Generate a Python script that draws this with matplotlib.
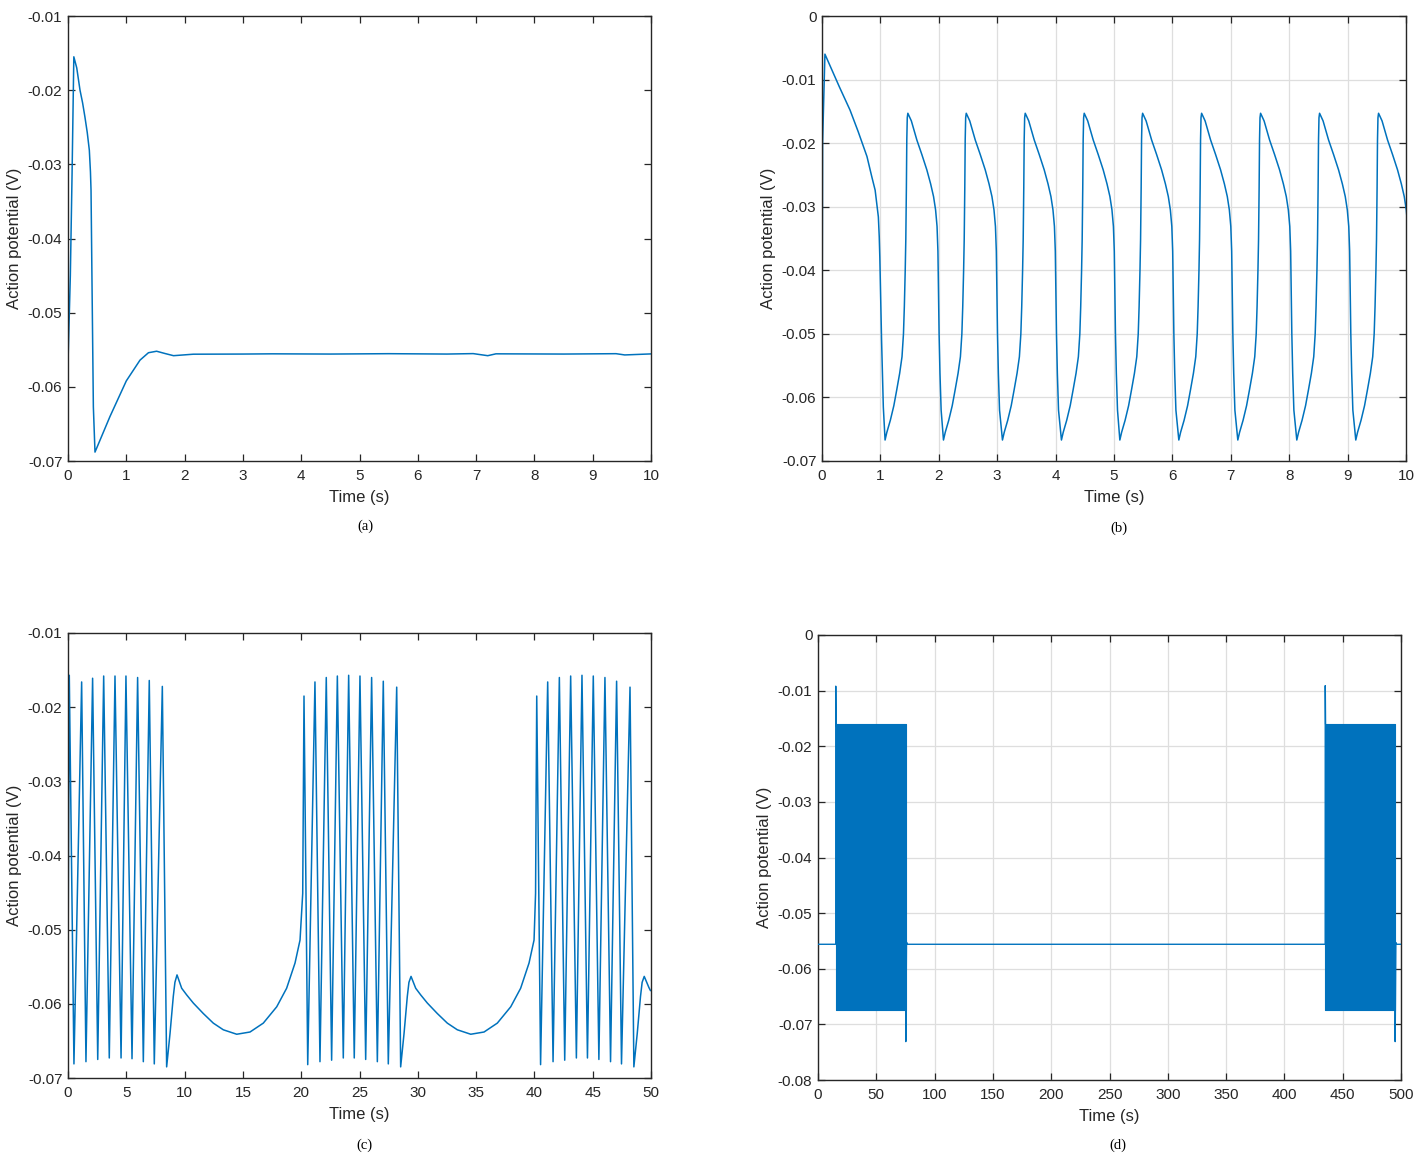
import numpy as np
import matplotlib
matplotlib.use("Agg")
import matplotlib.pyplot as plt

plt.rcParams['font.family'] = ['Liberation Sans', 'DejaVu Sans']
plt.rcParams['axes.unicode_minus'] = False

BLUE = '#0072BD'
DARK = '#262626'

# ---- (a) single spike then rest ----
a_t = [0.0, 0.04, 0.07, 0.10, 0.15, 0.206, 0.25, 0.29, 0.33, 0.366, 0.385, 0.395,
       0.41, 0.435, 0.463, 0.72, 1.0, 1.235, 1.38, 1.52, 1.66, 1.81, 1.98, 2.15,
       3.0, 3.5, 4.5, 5.5, 6.5, 6.95, 7.2, 7.34, 8.5, 9.4, 9.55, 10.0]
a_v = [-0.0568, -0.045, -0.0312, -0.0155, -0.0170, -0.0200, -0.0217, -0.0236,
       -0.0257, -0.0281, -0.0310, -0.0335, -0.0447, -0.0627, -0.0688, -0.0640,
       -0.0592, -0.0564, -0.0554, -0.0552, -0.0555, -0.0558, -0.0557, -0.0556,
       -0.05558, -0.05555, -0.05558, -0.05553, -0.05558, -0.05552, -0.0558,
       -0.05555, -0.05558, -0.05553, -0.0557, -0.05556]
a_yticks = [-0.07, -0.06, -0.05, -0.04, -0.03, -0.02, -0.01]
a_ylabels = ['-0.07', '-0.06', '-0.05', '-0.04', '-0.03', '-0.02', '-0.01']
xticks_10 = [0, 1, 2, 3, 4, 5, 6, 7, 8, 9, 10]

# ---- (b) regular firing ----
b_first_t = [0.0, 0.01, 0.05, 0.30, 0.48, 0.62, 0.77, 0.853, 0.91, 0.965, 0.98,
             0.99, 1.02, 1.05]
b_first_v = [-0.0570, -0.0200, -0.0060, -0.0112, -0.0148, -0.0182, -0.0221,
             -0.0253, -0.0274, -0.0316, -0.0347, -0.0379, -0.0510, -0.0615]
# one cycle, times measured from its trough
b_cycle_dt = [0.0, 0.03, 0.09, 0.15, 0.20, 0.25, 0.29, 0.315, 0.33, 0.345, 0.355,
              0.365, 0.372, 0.38, 0.39, 0.45, 0.544, 0.63, 0.715, 0.78, 0.83,
              0.865, 0.89, 0.905, 0.915, 0.925, 0.94, 0.96]
b_cycle_v = [-0.0667, -0.0655, -0.0636, -0.0613, -0.0588, -0.0562, -0.0536,
             -0.0500, -0.0457, -0.0400, -0.0352, -0.0270, -0.0195, -0.0160,
             -0.0153, -0.0165, -0.0195, -0.0218, -0.0242, -0.0264, -0.0284,
             -0.0305, -0.0331, -0.0370, -0.0430, -0.0500, -0.0562, -0.0620]
b_trough_t = [1.08, 2.08, 3.09, 4.10, 5.10, 6.11, 7.12, 8.13, 9.14]
b_yticks = [-0.07, -0.06, -0.05, -0.04, -0.03, -0.02, -0.01, 0.0]
b_ylabels = ['-0.07', '-0.06', '-0.05', '-0.04', '-0.03', '-0.02', '-0.01', '0']

# ---- (c) bursting ----
c_peak_t = [0.11, 1.17, 2.11, 3.06, 4.03, 4.97, 5.97, 6.97, 8.09,
            20.24, 21.18, 22.15, 23.10, 24.07, 25.04, 26.04, 27.04, 28.19,
            40.20, 41.14, 42.14, 43.11, 44.08, 45.05, 46.05, 47.05, 48.20]
c_peak_v = [-0.0157, -0.0166, -0.0161, -0.0158, -0.0158, -0.0158, -0.0160, -0.0164, -0.0172,
            -0.0185, -0.0166, -0.0160, -0.0158, -0.0157, -0.0158, -0.0160, -0.0165, -0.0173,
            -0.0185, -0.0166, -0.0160, -0.0158, -0.0157, -0.0158, -0.0160, -0.0165, -0.0173]
c_trough_t = [0.51, 1.54, 2.55, 3.54, 4.55, 5.49, 6.46, 7.40, 8.46,
              20.56, 21.61, 22.61, 23.61, 24.55, 25.53, 26.53, 27.47, 28.53,
              40.53, 41.60, 42.60, 43.60, 44.55, 45.53, 46.53, 47.47, 48.53]
c_trough_v = [-0.0681, -0.0678, -0.0675, -0.0673, -0.0673, -0.0674, -0.0678, -0.0681, -0.0685,
              -0.0682, -0.0678, -0.0676, -0.0673, -0.0673, -0.0675, -0.0678, -0.0681, -0.0685,
              -0.0682, -0.0678, -0.0676, -0.0673, -0.0673, -0.0675, -0.0678, -0.0681, -0.0685]
c_slow_t = [0.0,
            8.75, 9.03, 9.17, 9.35, 9.75, 10.18, 10.75, 11.60, 12.46, 13.32, 14.47,
            15.61, 16.75, 17.90, 18.75, 19.47, 19.90, 20.13,
            28.82, 29.10, 29.24, 29.42, 29.82, 30.25, 30.82, 31.67, 32.53, 33.39, 34.54,
            35.68, 36.82, 37.97, 38.82, 39.54, 39.97, 40.10,
            48.82, 49.10, 49.24, 49.42, 49.82, 49.95]
c_slow_v = [-0.0556,
            -0.0640, -0.0590, -0.0571, -0.0561, -0.0579, -0.0588, -0.0599, -0.0613,
            -0.0626, -0.0635, -0.0641, -0.0638, -0.0626, -0.0604, -0.0579, -0.0545,
            -0.0514, -0.0451,
            -0.0640, -0.0590, -0.0571, -0.0563, -0.0579, -0.0588, -0.0599, -0.0613,
            -0.0626, -0.0635, -0.0641, -0.0638, -0.0626, -0.0604, -0.0579, -0.0545,
            -0.0514, -0.0451,
            -0.0640, -0.0590, -0.0571, -0.0563, -0.0578, -0.0582]
xticks_50 = [0, 5, 10, 15, 20, 25, 30, 35, 40, 45, 50]

# ---- (d) long run, bursts appear as solid blocks ----
d_t = [0.0, 15.2, 15.22, 15.4, 75.2, 75.3, 75.9, 76.5, 435.0, 435.05, 435.3,
       494.9, 495.0, 495.6, 496.3, 500.0]
d_v = [-0.0556, -0.0556, -0.0092, -0.0160, -0.0675, -0.0731, -0.0552, -0.0556,
       -0.0556, -0.0091, -0.0160, -0.0675, -0.0731, -0.0553, -0.0556, -0.0556]
d_burst_start = [15.3, 435.0]
d_burst_end = [75.3, 495.0]
d_burst_top = [-0.0160, -0.0160]
d_burst_bottom = [-0.0675, -0.0675]
d_yticks = [-0.08, -0.07, -0.06, -0.05, -0.04, -0.03, -0.02, -0.01, 0.0]
d_ylabels = ['-0.08', '-0.07', '-0.06', '-0.05', '-0.04', '-0.03', '-0.02', '-0.01', '0']
xticks_500 = [0, 50, 100, 150, 200, 250, 300, 350, 400, 450, 500]


def style(ax, xlim, ylim, xticks, yticks, ylabels, grid):
    ax.set_xlim(xlim)
    ax.set_ylim(ylim)
    ax.set_xticks(xticks)
    ax.set_xticklabels([str(x) for x in xticks])
    ax.set_yticks(yticks)
    ax.set_yticklabels(ylabels)
    ax.tick_params(direction='in', top=True, right=True, length=5, width=0.9,
                   colors=DARK, labelsize=11)
    ax.tick_params(axis='x', pad=6)
    ax.tick_params(axis='y', pad=4)
    for s in ax.spines.values():
        s.set_color(DARK)
        s.set_linewidth(1.0)
    if grid:
        ax.grid(True, color='#dedede', linewidth=0.9)
        ax.set_axisbelow(True)
    ax.set_xlabel('Time (s)', fontsize=12, color=DARK, labelpad=5)
    ax.set_ylabel('Action potential (V)', fontsize=12, color=DARK, labelpad=4)


W, H = 1424, 1155
fig = plt.figure(figsize=(W / 100, H / 100), dpi=100)

def add_axes(l, r, t, b):
    return fig.add_axes([l / W, 1 - b / H, (r - l) / W, (b - t) / H])

ax_a = add_axes(68, 651, 16, 461)
ax_b = add_axes(822, 1406, 16, 461)
ax_c = add_axes(68, 651, 633, 1078)
ax_d = add_axes(818, 1401, 635, 1080)

# (a)
ax_a.plot(a_t, a_v, color=BLUE, lw=1.1)
style(ax_a, (0, 10), (-0.07, -0.01), xticks_10, a_yticks, a_ylabels, False)

# (b)
bt = list(b_first_t)
bv = list(b_first_v)
for tr in b_trough_t:
    bt += [tr + d for d in b_cycle_dt]
    bv += b_cycle_v
ax_b.plot(bt, bv, color=BLUE, lw=1.1)
style(ax_b, (0, 10), (-0.07, 0.0), xticks_10, b_yticks, b_ylabels, True)

# (c)
ct = np.array(c_peak_t + c_trough_t + c_slow_t)
cv = np.array(c_peak_v + c_trough_v + c_slow_v)
order = np.argsort(ct)
ax_c.plot(ct[order], cv[order], color=BLUE, lw=1.1)
style(ax_c, (0, 50), (-0.07, -0.01), xticks_50, a_yticks, a_ylabels, False)

# (d)
for s, e, top, bot in zip(d_burst_start, d_burst_end, d_burst_top, d_burst_bottom):
    ax_d.fill_between([s, e], [bot, bot], [top, top], color=BLUE, lw=0.8, zorder=2)
ax_d.plot(d_t, d_v, color=BLUE, lw=1.0, zorder=3)
style(ax_d, (0, 500), (-0.08, 0.0), xticks_500, d_yticks, d_ylabels, True)

cap = dict(ha='center', va='center', fontsize=10.5, family=['Liberation Serif', 'DejaVu Serif'])
fig.text(365 / W, 1 - 526 / H, '(a)', **cap)
fig.text(1119 / W, 1 - 528 / H, '(b)', **cap)
fig.text(364 / W, 1 - 1145 / H, '(c)', **cap)
fig.text(1118 / W, 1 - 1145 / H, '(d)', **cap)

fig.savefig('out.png', dpi=100)
